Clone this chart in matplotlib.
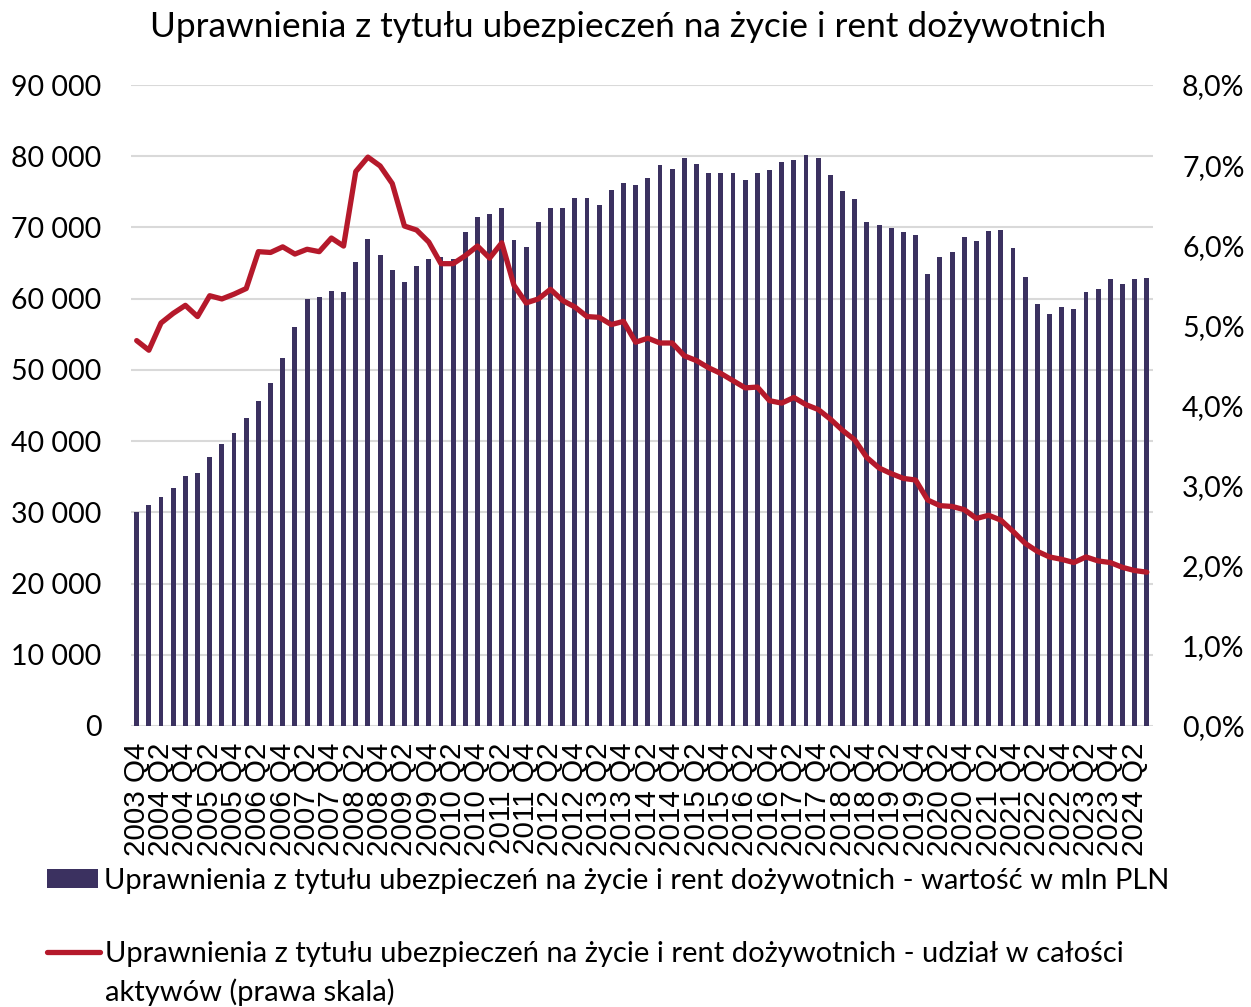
import matplotlib
matplotlib.use("Agg")
import matplotlib.pyplot as plt
from matplotlib.ticker import FixedLocator

plt.rcParams['font.family'] = ['Lato', 'DejaVu Sans']

# kwartały 2003 Q4 - 2024 Q3
kwartaly = [f"{r} Q{q}" for r in range(2003, 2025) for q in range(1, 5)][3:-1]

# mln PLN
wartosc = [
    30100, 31000, 32200, 33400, 35100, 35500, 37800, 39600, 41100, 43300,
    45700, 48100, 51700, 56000, 59900, 60200, 61100, 61000, 65100, 68400,
    66100, 64000, 62300, 64600, 65500, 65800, 65600, 69400, 71500, 71900,
    72800, 68300, 67300, 70800, 72700, 72800, 74200, 74200, 73100, 75200,
    76300, 75900, 77000, 78700, 78200, 79800, 78900, 77700, 77700, 77700,
    76600, 77700, 78000, 79200, 79500, 80200, 79700, 77300, 75100, 74000,
    70800, 70300, 69900, 69300, 69000, 63500, 65900, 66500, 68700, 68100,
    69500, 69600, 67100, 63100, 59200, 57800, 58800, 58600, 61000, 61300,
    62800, 62100, 62800, 62900,
]

# udział w aktywach, %
udzial = [
    4.81, 4.69, 5.03, 5.15, 5.25, 5.11, 5.37, 5.33, 5.39, 5.46,
    5.92, 5.91, 5.98, 5.89, 5.95, 5.92, 6.09, 5.99, 6.92, 7.10,
    6.99, 6.77, 6.24, 6.19, 6.04, 5.77, 5.77, 5.87, 5.99, 5.84,
    6.03, 5.50, 5.28, 5.33, 5.45, 5.31, 5.23, 5.11, 5.10, 5.01,
    5.05, 4.79, 4.84, 4.78, 4.78, 4.62, 4.56, 4.47, 4.40, 4.31,
    4.22, 4.23, 4.06, 4.03, 4.10, 4.01, 3.95, 3.83, 3.69, 3.57,
    3.35, 3.22, 3.15, 3.09, 3.07, 2.82, 2.75, 2.74, 2.70, 2.59,
    2.63, 2.57, 2.43, 2.28, 2.18, 2.11, 2.08, 2.04, 2.11, 2.06,
    2.04, 1.98, 1.94, 1.92,
]

tytul = "Uprawnienia z tytułu ubezpieczeń na życie i rent dożywotnich"
lab_bar = "Uprawnienia z tytułu ubezpieczeń na życie i rent dożywotnich - wartość w mln PLN"
lab_line = "Uprawnienia z tytułu ubezpieczeń na życie i rent dożywotnich - udział w całości"
lab_line2 = "aktywów (prawa skala)"

BAR_C = '#3b3160'
LINE_C = '#b5192b'
GRID_C = '#d9d9d9'
LEG_FS = 21

W, H = 1251, 1007
fig = plt.figure(figsize=(W / 100, H / 100), dpi=100)
ax = fig.add_axes([130.6 / W, 1 - 726 / H, (1152.9 - 130.6) / W, (726 - 85) / H])

x = list(range(len(kwartaly)))
bars = ax.bar(x, wartosc, width=0.4, color=BAR_C, zorder=2)
ax.set_xlim(-0.5, len(kwartaly) - 0.5)
ax.set_ylim(0, 90000)
ax.yaxis.set_major_locator(FixedLocator(range(0, 90001, 10000)))
ax.set_yticklabels([f"{v:,}".replace(',', ' ') for v in range(0, 90001, 10000)])
ax.grid(axis='y', color=GRID_C, linewidth=1.5, zorder=0)
ax.set_xticks(x[::2])
ax.set_xticklabels(kwartaly[::2], rotation=90, fontfamily='Liberation Sans', fontsize=21.3)
ax.tick_params(axis='x', length=0, pad=12)
ax.tick_params(axis='y', length=0, pad=21, labelsize=20.5)
for s in ax.spines.values():
    s.set_visible(False)

ax2 = ax.twinx()
linia, = ax2.plot(x, udzial, color=LINE_C, linewidth=3.8, solid_joinstyle='round',
                  solid_capstyle='round', zorder=3)
ax2.set_ylim(0, 8)
ax2.set_yticks(range(0, 9))
ax2.set_yticklabels([f"{v:.1f}%".replace('.', ',') for v in range(0, 9)])
ax2.tick_params(axis='y', length=0, pad=21, labelsize=20.5)
for s in ax2.spines.values():
    s.set_visible(False)

fig.text(628 / W, 1 - 27 / H, tytul, ha='center', va='center', fontsize=25.4)

fig.legend(handles=[bars], labels=[lab_bar], loc='center left',
           bbox_to_anchor=(47 / W, 1 - 881 / H), frameon=False, fontsize=LEG_FS,
           borderpad=0, borderaxespad=0, handlelength=1.75, handleheight=0.62,
           handletextpad=0.22)
fig.legend(handles=[linia], labels=[lab_line], loc='center left',
           bbox_to_anchor=(47 / W, 1 - 954 / H), frameon=False, fontsize=LEG_FS,
           borderpad=0, borderaxespad=0, handlelength=1.8, handletextpad=0.18)
fig.text(105 / W, 1 - 992 / H, lab_line2, ha='left', va='center', fontsize=LEG_FS)

fig.savefig('out.png', dpi=100)
